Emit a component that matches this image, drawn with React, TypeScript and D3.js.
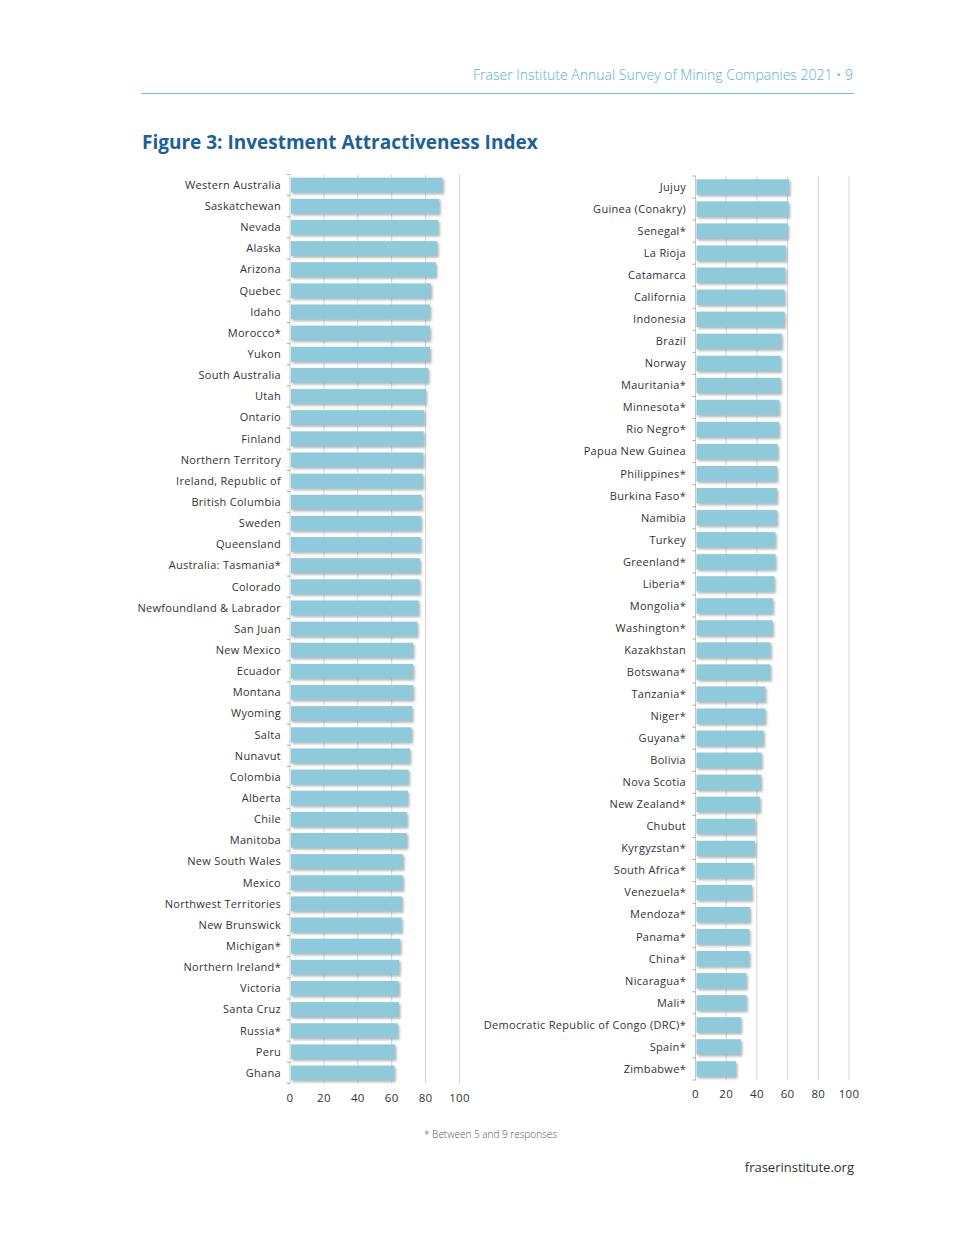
import React from "react";
import * as d3 from "d3";

// left panel
const leftNames = [
  "Western Australia", "Saskatchewan", "Nevada", "Alaska", "Arizona", "Quebec", "Idaho",
  "Morocco*", "Yukon", "South Australia", "Utah", "Ontario", "Finland", "Northern Territory",
  "Ireland, Republic of", "British Columbia", "Sweden", "Queensland", "Australia: Tasmania*",
  "Colorado", "Newfoundland & Labrador", "San Juan", "New Mexico", "Ecuador", "Montana",
  "Wyoming", "Salta", "Nunavut", "Colombia", "Alberta", "Chile", "Manitoba", "New South Wales",
  "Mexico", "Northwest Territories", "New Brunswick", "Michigan*", "Northern Ireland*",
  "Victoria", "Santa Cruz", "Russia*", "Peru", "Ghana"
];
const leftValues = [
  89.5, 87.5, 87, 86.3, 85.5, 82.6, 82, 82, 82, 81, 79.5, 78.6, 78.3, 78, 77.7, 77.1, 76.7,
  76.5, 76.1, 75.9, 75.3, 74.5, 72.1, 72.1, 72.1, 71.5, 71.2, 70.2, 69.4, 69, 68.4, 68.4,
  66.1, 66.1, 65.5, 65.3, 64.5, 63.9, 63.7, 63.7, 63.1, 61.4, 61
];

// right panel
const rightNames = [
  "Jujuy", "Guinea (Conakry)", "Senegal*", "La Rioja", "Catamarca", "California", "Indonesia",
  "Brazil", "Norway", "Mauritania*", "Minnesota*", "Rio Negro*", "Papua New Guinea",
  "Philippines*", "Burkina Faso*", "Namibia", "Turkey", "Greenland*", "Liberia*", "Mongolia*",
  "Washington*", "Kazakhstan", "Botswana*", "Tanzania*", "Niger*", "Guyana*", "Bolivia",
  "Nova Scotia", "New Zealand*", "Chubut", "Kyrgyzstan*", "South Africa*", "Venezuela*",
  "Mendoza*", "Panama*", "China*", "Nicaragua*", "Mali*", "Democratic Republic of Congo (DRC)*",
  "Spain*", "Zimbabwe*"
];
const rightValues = [
  60.4, 60, 59.4, 58.1, 57.9, 57.4, 57.4, 55.5, 54.8, 54.8, 53.9, 53.7, 52.9, 52.4, 52.4, 52.4,
  51.4, 51.4, 50.7, 49.7, 49.6, 48.3, 48.1, 44.8, 44.8, 43.7, 42.4, 42, 41.3, 38.1, 38.1, 36.9,
  36.1, 34.8, 34.4, 34.4, 32.5, 32.5, 28.9, 28.9, 25.7
];

const axisTicks = [0, 20, 40, 60, 80, 100];

const barColor = "#8fcadb";
const textColor = "#333";
const font = "'Open Sans', sans-serif";

type PanelProps = {
  names: string[];
  values: number[];
  x0: number;
  x1: number;
  y0: number;
  y1: number;
  labelX: number;
  tickY: number;
};

function Panel({ names, values, x0, x1, y0, y1, labelX, tickY }: PanelProps) {
  const x = d3.scaleLinear().domain([0, 100]).range([x0, x1]);
  const y = d3.scaleBand<string>().domain(names).range([y0, y1]).paddingInner(0.3).paddingOuter(0.15);
  const step = y.step();
  return (
    <g>
      {/* gridlines */}
      {axisTicks.slice(1).map(t => (
        <line key={t} x1={x(t)} x2={x(t)} y1={y0} y2={y1} stroke="#d4d4d4" strokeWidth={1} />
      ))}
      {/* axis line and ticks */}
      <line x1={x0} x2={x0} y1={y0} y2={y1} stroke="#c8c8c8" />
      {d3.range(names.length + 1).map(i => (
        <line key={i} x1={x0 - 3} x2={x0} y1={y0 + i * step} y2={y0 + i * step} stroke="#b0a898" />
      ))}
      {names.map((n, i) => (
        <g key={n}>
          <rect
            x={x(0) + 1}
            y={y(n)}
            width={x(values[i]) - x(0)}
            height={y.bandwidth()}
            fill={barColor}
            filter="url(#shadow)"
          />
          <text
            x={labelX}
            y={(y(n) as number) + y.bandwidth() / 2}
            dy="0.35em"
            textAnchor="end"
            fontSize={11}
            letterSpacing={0.3}
            fill={textColor}
            fontFamily={font}
          >
            {n}
          </text>
        </g>
      ))}
      {axisTicks.map(t => (
        <text key={t} x={x(t)} y={tickY} textAnchor="middle" fontSize={11.5} letterSpacing={0.3} fill={textColor} fontFamily={font}>
          {t}
        </text>
      ))}
    </g>
  );
}

export default function App() {
  return (
    <svg width={960} height={1242} style={{ position: "absolute", left: 0, top: 0, background: "#fff" }}>
      <defs>
        <filter id="shadow" x="-5%" y="-20%" width="115%" height="160%">
          <feDropShadow dx={1.5} dy={1.8} stdDeviation={0.9} floodColor="#777" floodOpacity={0.55} />
        </filter>
      </defs>
      <rect width={960} height={1242} fill="#fff" />
      <text x={853} y={80} textAnchor="end" fontSize={14} fill="#52b2d3" fontFamily={font} fontWeight={300}>
        Fraser Institute Annual Survey of Mining Companies 2021 • 9
      </text>
      <line x1={141} x2={854} y1={93.5} y2={93.5} stroke="#6cc0dc" strokeWidth={1.2} />
      <text x={142} y={149} fontSize={19} fontWeight={700} fill="#1c5f99" fontFamily={font}>
        Figure 3: Investment Attractiveness Index
      </text>

      <Panel
        names={leftNames}
        values={leftValues}
        x0={290}
        x1={459.5}
        y0={174.5}
        y1={1083.5}
        labelX={281}
        tickY={1102}
      />
      <Panel
        names={rightNames}
        values={rightValues}
        x0={695.5}
        x1={849}
        y0={176}
        y1={1080}
        labelX={686}
        tickY={1098}
      />

      <text x={424} y={1138} fontSize={10} fill="#555" fontFamily={font} fontWeight={300}>
        * Between 5 and 9 responses
      </text>
      <text x={854} y={1172} textAnchor="end" fontSize={13} fill={textColor} fontFamily={font}>
        fraserinstitute.org
      </text>
    </svg>
  );
}
